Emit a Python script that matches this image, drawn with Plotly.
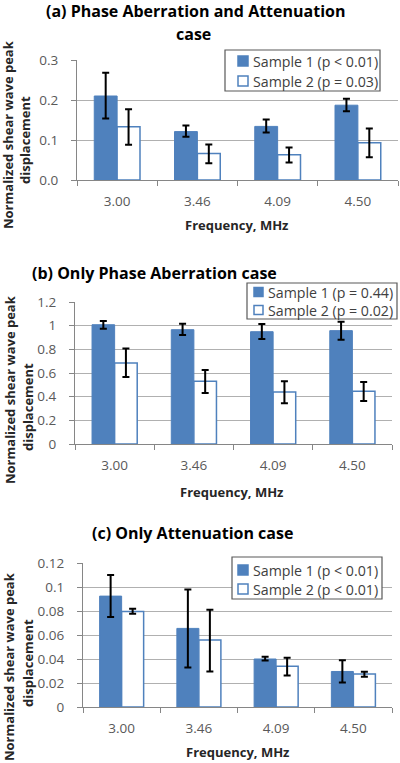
import plotly.graph_objects as go

categories = ["3.00", "3.46", "4.09", "4.50"]

# Panel (a): Phase Aberration and Attenuation
a_s1 = [0.210, 0.121, 0.134, 0.187]
a_s1_hi = [0.268, 0.136, 0.151, 0.203]
a_s1_lo = [0.154, 0.108, 0.119, 0.172]
a_s2 = [0.133, 0.066, 0.063, 0.093]
a_s2_hi = [0.177, 0.089, 0.081, 0.129]
a_s2_lo = [0.088, 0.042, 0.044, 0.057]

# Panel (b): Only Phase Aberration
b_s1 = [1.008, 0.966, 0.949, 0.958]
b_s1_hi = [1.040, 1.017, 1.014, 1.034]
b_s1_lo = [0.975, 0.921, 0.887, 0.882]
b_s2 = [0.685, 0.530, 0.440, 0.445]
b_s2_hi = [0.806, 0.625, 0.530, 0.524]
b_s2_lo = [0.566, 0.431, 0.344, 0.363]

# Panel (c): Only Attenuation
c_s1 = [0.0924, 0.0655, 0.0400, 0.0296]
c_s1_hi = [0.1100, 0.0980, 0.0418, 0.0390]
c_s1_lo = [0.0750, 0.0330, 0.0387, 0.0205]
c_s2 = [0.0796, 0.0559, 0.0340, 0.0274]
c_s2_hi = [0.0818, 0.0810, 0.0410, 0.0293]
c_s2_lo = [0.0778, 0.0296, 0.0263, 0.0252]

legend_a = ["Sample 1 (p < 0.01)", "Sample 2 (p = 0.03)"]
legend_b = ["Sample 1 (p = 0.44)", "Sample 2 (p = 0.02)"]
legend_c = ["Sample 1 (p < 0.01)", "Sample 2 (p < 0.01)"]

titles = [["(a) Phase Aberration and Attenuation", "case"],
          ["(b) Only Phase Aberration case"],
          ["(c) Only Attenuation case"]]
y_title_1 = "Normalized shear wave peak"
y_title_2 = "displacement"
x_title = "Frequency, MHz"

W, H = 400, 763
BLUE = "#4F81BD"
FONT = "Open Sans"


def fy(px):
    return 1 - px / H


def fx(px):
    return px / W


fig = go.Figure()

panels = [
    (a_s1, a_s1_hi, a_s1_lo, a_s2, a_s2_hi, a_s2_lo, legend_a),
    (b_s1, b_s1_hi, b_s1_lo, b_s2, b_s2_hi, b_s2_lo, legend_b),
    (c_s1, c_s1_hi, c_s1_lo, c_s2, c_s2_hi, c_s2_lo, legend_c),
]

for i, (s1, s1h, s1l, s2, s2h, s2l, names) in enumerate(panels):
    suf = "" if i == 0 else str(i + 1)
    eb = dict(thickness=2, width=3.5, color="black", type="data", symmetric=False)
    fig.add_trace(go.Bar(
        x=categories, y=s1, name=names[0], showlegend=False,
        marker=dict(color=BLUE, line=dict(color=BLUE, width=1)),
        error_y=dict(array=[h - v for h, v in zip(s1h, s1)],
                     arrayminus=[v - l for l, v in zip(s1l, s1)], **eb),
        xaxis="x" + suf, yaxis="y" + suf,
    ))
    fig.add_trace(go.Bar(
        x=categories, y=s2, name=names[1], showlegend=False,
        marker=dict(color="white", line=dict(color=BLUE, width=1.5)),
        error_y=dict(array=[h - v for h, v in zip(s2h, s2)],
                     arrayminus=[v - l for l, v in zip(s2l, s2)], **eb),
        xaxis="x" + suf, yaxis="y" + suf,
    ))

# geometry (pixels)
geo = [
    dict(x0=77, x1=398, ytop=60, ybot=180, rng=[0, 0.3], dt=0.1, fmt=".1f",
         box=(225, 50, 380, 91), sym=(238, 10), tx=251, rows=(61, 81),
         title=[(195, 11), (193, 34)], xt=(236, 225), yt1=(8, 135), yt2=(25, 140)),
    dict(x0=75, x1=392, ytop=302, ybot=444, rng=[0, 1.2], dt=0.2, fmt="",
         box=(247, 283, 397, 319), sym=(254, 9), tx=266, rows=(292, 310),
         title=[(154, 273)], xt=(232, 492), yt1=(10, 390), yt2=(28, 407)),
    dict(x0=83, x1=392, ytop=563, ybot=707, rng=[0, 0.12], dt=0.02, fmt="",
         box=(232, 557, 382, 599), sym=(238, 10), tx=251, rows=(570, 589),
         title=[(192, 533)], xt=(237, 752), yt1=(9, 667), yt2=(28, 663)),
]

layout = dict(
    template="none",
    width=W, height=H,
    margin=dict(l=0, r=0, t=0, b=0, pad=0, autoexpand=False),
    paper_bgcolor="white", plot_bgcolor="white",
    barmode="group", bargap=0.43, bargroupgap=0,
    font=dict(family=FONT, color="#595959"),
    showlegend=False,
    annotations=[], shapes=[],
)

for i, g in enumerate(geo):
    suf = "" if i == 0 else str(i + 1)
    names = panels[i][6]
    layout["xaxis" + suf] = dict(
        domain=[fx(g["x0"]), fx(g["x1"])], anchor="y" + suf, type="category",
        showline=True, linecolor="#868686", linewidth=1,
        ticks="outside", tickson="boundaries", ticklen=5, tickcolor="#868686",
        tickfont=dict(size=13.5, color="#595959"), showgrid=False,
        ticklabelstandoff=9, automargin=False,
    )
    layout["yaxis" + suf] = dict(
        domain=[fy(g["ybot"]), fy(g["ytop"])], anchor="x" + suf,
        range=g["rng"], dtick=g["dt"], tick0=0,
        showline=True, linecolor="#868686", linewidth=1,
        ticks="outside", ticklen=5, tickcolor="#868686",
        showgrid=True, gridcolor="#B0B0B0", gridwidth=1,
        zeroline=False, automargin=False,
        tickfont=dict(size=13.5, color="#595959"),
        ticklabelstandoff=10,
    )
    if g["fmt"]:
        layout["yaxis" + suf]["tickformat"] = g["fmt"]

    # legend box drawn in paper coordinates
    bx0, by0, bx1, by1 = g["box"]
    layout["shapes"].append(dict(
        type="rect", xref="paper", yref="paper",
        x0=fx(bx0), x1=fx(bx1), y0=fy(by1), y1=fy(by0),
        fillcolor="white", line=dict(color="#595959", width=1.2), layer="above",
    ))
    sx, ss = g["sym"]
    for k, ry in enumerate(g["rows"]):
        layout["shapes"].append(dict(
            type="rect", xref="paper", yref="paper",
            x0=fx(sx), x1=fx(sx + ss), y0=fy(ry + ss / 2), y1=fy(ry - ss / 2),
            fillcolor=BLUE if k == 0 else "white",
            line=dict(color=BLUE, width=1.5), layer="above",
        ))
        layout["annotations"].append(dict(
            text=names[k], x=fx(g["tx"]), y=fy(ry),
            xref="paper", yref="paper", showarrow=False,
            xanchor="left", yanchor="middle",
            font=dict(size=14.2, color="#404040", family=FONT),
        ))

    for line, (tx, ty) in zip(titles[i], g["title"]):
        layout["annotations"].append(dict(
            text="<b>" + line + "</b>", x=fx(tx), y=fy(ty),
            xref="paper", yref="paper", showarrow=False, xanchor="center", yanchor="middle",
            font=dict(size=16, color="black", family=FONT),
        ))
    layout["annotations"].append(dict(
        text="<b>" + x_title + "</b>", x=fx(g["xt"][0]), y=fy(g["xt"][1]),
        xref="paper", yref="paper", showarrow=False, xanchor="center", yanchor="middle",
        font=dict(size=13, color="#262626", family=FONT),
    ))
    for key, txt in (("yt1", y_title_1), ("yt2", y_title_2)):
        layout["annotations"].append(dict(
            text="<b>" + txt + "</b>", x=fx(g[key][0]), y=fy(g[key][1]),
            xref="paper", yref="paper", showarrow=False, xanchor="center", yanchor="middle",
            textangle=-90, font=dict(size=13, color="#262626", family=FONT),
        ))

fig.update_layout(**layout)
fig.write_html("out.html", config={"displayModeBar": False},
               post_script="document.body.style.margin='0';")
